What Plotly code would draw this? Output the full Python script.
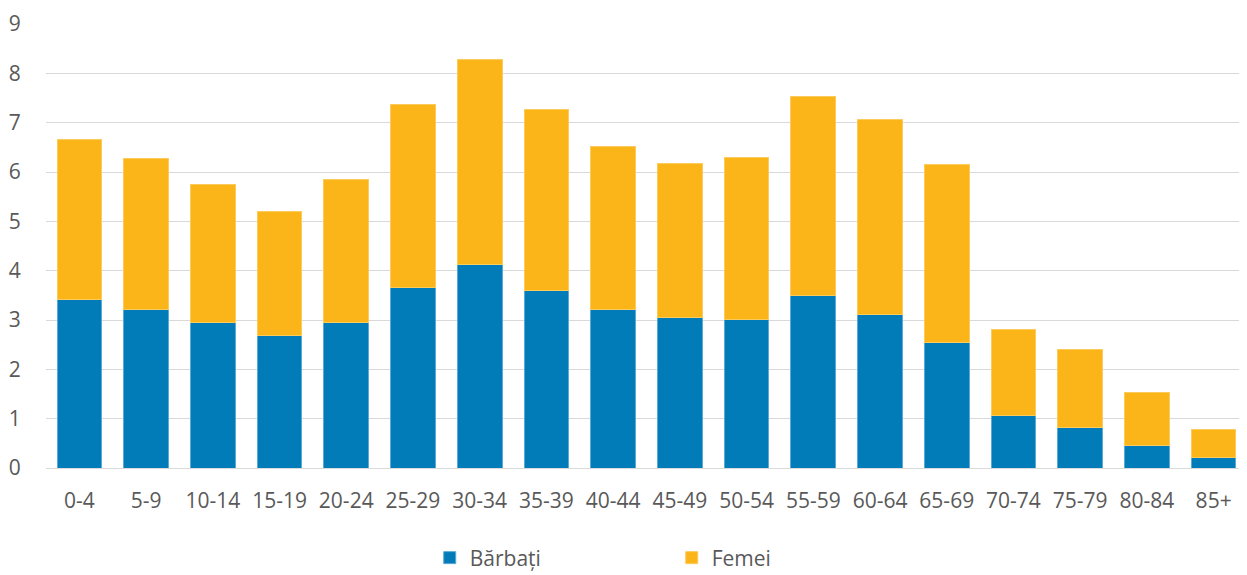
import plotly.graph_objects as go

categories = ["0-4", "5-9", "10-14", "15-19", "20-24", "25-29", "30-34", "35-39", "40-44",
              "45-49", "50-54", "55-59", "60-64", "65-69", "70-74", "75-79", "80-84", "85+"]
barbati = [3.42, 3.22, 2.95, 2.68, 2.95, 3.66, 4.13, 3.59, 3.22,
           3.05, 3.01, 3.49, 3.12, 2.55, 1.06, 0.83, 0.45, 0.22]
totals = [6.66, 6.28, 5.75, 5.20, 5.85, 7.37, 8.28, 7.26, 6.52,
          6.18, 6.29, 7.53, 7.07, 6.16, 2.81, 2.41, 1.53, 0.79]
femei = [round(t - b, 2) for t, b in zip(totals, barbati)]
y_ticks = [0, 1, 2, 3, 4, 5, 6, 7, 8, 9]

BLUE = "#027BB9"
YELLOW = "#FBB519"
TEXT = "#595959"
FONT = "Open Sans"
FS = 21

fig = go.Figure()
fig.add_trace(go.Bar(x=categories, y=barbati, name="Bărbați", marker_color=BLUE,
                     marker_line=dict(color="#5AA9D6", width=1)))
fig.add_trace(go.Bar(x=categories, y=femei, name="Femei", marker_color=YELLOW,
                     marker_line=dict(color="#FCCB5E", width=1)))

fig.update_layout(
    barmode="stack",
    bargap=0.33,
    width=1239, height=567,
    margin=dict(l=38, r=0, t=16, b=107),
    plot_bgcolor="white", paper_bgcolor="white",
    font=dict(family=FONT, size=FS, color=TEXT),
    showlegend=True,
    legend=dict(orientation="h", x=0.521, xanchor="center",
                yref="container", y=0.03, yanchor="middle",
                font=dict(family=FONT, size=FS, color=TEXT),
                entrywidth=197, itemwidth=30, traceorder="normal"),
)
fig.update_xaxes(showgrid=False, showline=False, zeroline=False, automargin=False,
                 tickfont=dict(family=FONT, size=FS, color=TEXT),
                 ticks="outside", ticklen=14, tickcolor="rgba(0,0,0,0)")
fig.update_yaxes(range=[0, 9], tickvals=y_ticks, showgrid=True, gridcolor="#D9D9D9", gridwidth=1,
                 zeroline=True, zerolinecolor="#D9D9D9", zerolinewidth=1, showline=False,
                 automargin=False,
                 tickfont=dict(family=FONT, size=FS, color=TEXT),
                 ticks="outside", ticklen=20, tickcolor="rgba(0,0,0,0)")

fig.write_html("out.html")
